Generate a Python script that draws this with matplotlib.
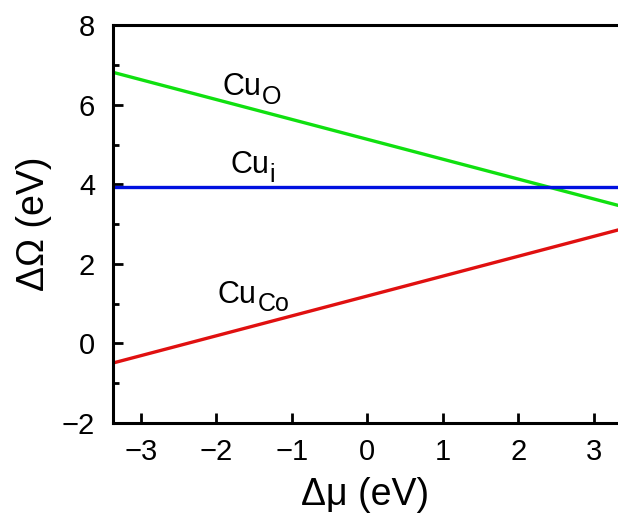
import numpy as np
import matplotlib.pyplot as plt
from matplotlib.ticker import MultipleLocator

plt.rcParams['font.family'] = ['Liberation Sans', 'DejaVu Sans']

# formation energy lines vs chemical potential
mu = np.array([-3.4, 3.4])
cu_o = np.array([6.83, 3.43])
cu_i = np.array([3.93, 3.93])
cu_co = np.array([-0.51, 2.89])

subs = ['O', 'i', 'Co']
label_pos = [(-1.92, 6.24), (-1.82, 4.28), (-1.98, 1.02)]

fig = plt.figure(figsize=(6.18, 5.15), dpi=100)
ax = fig.add_axes([0.183, 0.179, 0.817, 0.772])

ax.plot(mu, cu_o, color='#10e010', lw=2.4)
ax.plot(mu, cu_i, color='#0010e0', lw=2.4)
ax.plot(mu, cu_co, color='#e01010', lw=2.4)

# "Cu" plus a large subscript set on the baseline
for sub, (x, y) in zip(subs, label_pos):
    t = ax.text(x, y, 'Cu', fontsize=22, ha='left', va='baseline')
    ax.annotate(sub, xy=(1, 0), xycoords=t, xytext=(0.5, 4),
                textcoords='offset points', fontsize=18, ha='left', va='center')

ax.set_xlim(-3.37, 3.32)
ax.set_ylim(-2, 8)
ax.set_xticks([-3, -2, -1, 0, 1, 2, 3])
ax.set_xticklabels(['\u22123', '\u22122', '\u22121', '0', '1', '2', '3'])
ax.set_yticks([-2, 0, 2, 4, 6, 8])
ax.set_yticklabels(['\u22122', '0', '2', '4', '6', '8'])
ax.yaxis.set_minor_locator(MultipleLocator(1))

ax.tick_params(which='both', direction='in', width=2, labelsize=21)
ax.tick_params(axis='x', pad=11)
ax.tick_params(axis='y', pad=13)
ax.tick_params(which='major', length=7)
ax.tick_params(which='minor', length=4)
ax.spines['right'].set_visible(False)
for s in ['left', 'bottom', 'top']:
    ax.spines[s].set_linewidth(2.2)

ax.set_xlabel('\u0394\u03bc (eV)', fontsize=27, labelpad=8)
ax.set_ylabel('\u0394\u03a9 (eV)', fontsize=27, labelpad=7)

fig.savefig('out.png', dpi=100)
